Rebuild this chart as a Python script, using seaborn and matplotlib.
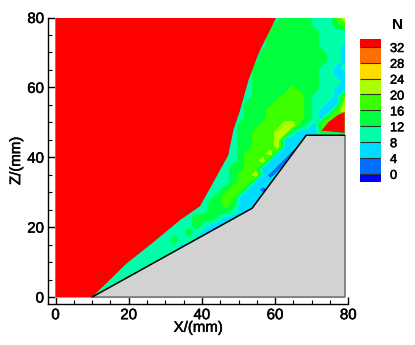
import numpy as np
import matplotlib
matplotlib.use("Agg")
import matplotlib.pyplot as plt
import matplotlib.patheffects as pe
from matplotlib.colors import ListedColormap, BoundaryNorm
from matplotlib.ticker import MultipleLocator
from matplotlib.transforms import blended_transform_factory
import seaborn as sns

# N band at 2 mm grid nodes, Z from 80 down to 0, X from 0 to 79 (digit d = band from 4d-4 to 4d)
# cells upstream of the front and under the body are covered by the red and grey shapes
band_rows = [
    "3" * 30 + "3444433356",
    "3" * 29 + "34444433345",
    "3" * 28 + "344444443333",
    "3" * 28 + "344444443333",
    "3" * 27 + "3344444443332",
    "3" * 27 + "3444444444332",
    "3" * 27 + "3444444444332",
    "3" * 26 + "34444444443323",
    "3" * 26 + "34444444443322",
    "3" * 26 + "34444444443332",
    "3" * 25 + "334444454443322",
    "3" * 25 + "334444555433325",
    "3" * 25 + "344445555433226",
    "3" * 25 + "344455555432256",
    "3" * 24 + "3344455555432555",
    "3" * 24 + "3444555664325555",
    "3" * 24 + "3445556632224444",
    "3" * 24 + "3445556222222222",
    "3" * 24 + "3445556221222222",
    "3" * 24 + "3455562212222222",
    "3" * 23 + "33455622122222222",
    "3" * 23 + "34455221222222222",
    "3" * 23 + "34556212222222222",
    "3" * 22 + "33455222" + "2" * 10,
    "3" * 21 + "33455221" + "2" * 11,
    "3" * 21 + "3455222" + "2" * 12,
    "3" * 20 + "34454222" + "2" * 12,
    "3" * 19 + "33444322" + "2" * 13,
    "3" * 18 + "3444322" + "2" * 15,
    "3" * 17 + "3343222" + "2" * 16,
    "3" * 15 + "3334322" + "2" * 18,
    "3" * 14 + "334332" + "2" * 20,
    "3" * 13 + "33332" + "2" * 22,
    "3" * 12 + "33332" + "2" * 23,
    "3" * 40,
    "3" * 40,
    "3" * 40,
    "3" * 40,
    "3" * 40,
    "3" * 40,
]
band_colors = ["#0000ff", "#006eff", "#00dcff", "#00ffaa", "#00ff3c",
               "#3cff00", "#aaff00", "#ffdc00", "#ff6e00", "#ff0000"]
level_edges = [-4, 0, 4, 8, 12, 16, 20, 24, 28, 32, 36]
legend_labels = ["32", "28", "24", "20", "16", "12", "8", "4", "0"]

# red upstream region boundary (mm)
front_x = [0, 10, 19.4, 25.8, 34, 39.5, 47.2, 48.6, 50.3, 52.7, 55.6, 60.3, 0]
front_z = [0, 0, 9.6, 14.9, 22, 26, 40.6, 47.8, 53, 62, 70, 80, 80]
# red patch above the shelf (mm)
patch_x = [79, 77, 74.5, 72.7, 79]
patch_z = [53, 52, 50, 47.6, 47]
# solid body (mm)
body_x = [10, 53.7, 68.5, 79, 79, 10]
body_z = [0, 25.4, 46.3, 46.3, 0, 0]

W, H = 415, 345
FONT = "Liberation Sans"
sns.set_theme(style="ticks")
plt.rcParams["font.family"] = [FONT, "DejaVu Sans"]

fig = plt.figure(figsize=(W / 100, H / 100), dpi=100, facecolor="white")
L, R, T, B = 48.3, 348.3, 17.5, 304.0

cmap = ListedColormap(band_colors)
norm = BoundaryNorm(level_edges, cmap.N)
grid = np.array([[4 * int(c) - 2 for c in row] for row in band_rows], dtype=float)
grid_x = np.linspace(0, 79, grid.shape[1])
grid_z = np.linspace(80, 0, grid.shape[0])

ax = fig.add_axes([L / W, (H - B) / H, (R - L) / W, (B - T) / H], zorder=3)
ax.set_xlim(-2, 80)
ax.set_ylim(-2, 80)
ax.contourf(grid_x, grid_z, grid, levels=level_edges, cmap=cmap, norm=norm)
ax.fill(front_x, front_z, color="#ff0000", lw=0)
ax.fill(patch_x, patch_z, color="#ff0000", lw=0)
ax.fill(body_x, body_z, color="#d2d2d2", lw=0)
ax.plot(body_x[3:6], body_z[3:6], color="#787878", lw=1.2, solid_capstyle="butt")
ax.plot(body_x[:4], body_z[:4], color="black", lw=1.1, solid_joinstyle="miter")

for side in ("top", "right"):
    ax.spines[side].set_visible(False)
for side in ("left", "bottom"):
    ax.spines[side].set_linewidth(1.0)
    ax.spines[side].set_color("black")
ax.xaxis.set_major_locator(MultipleLocator(20))
ax.yaxis.set_major_locator(MultipleLocator(20))
ax.xaxis.set_minor_locator(MultipleLocator(5))
ax.yaxis.set_minor_locator(MultipleLocator(5))
ax.tick_params(which="major", direction="in", length=5, width=1.0, color="black",
               labelsize=10.8, labelcolor="black", pad=3)
ax.tick_params(which="minor", direction="in", length=3, width=0.8, color="black")
ax.set_xlabel("X/(mm)", fontsize=10.8, color="black", labelpad=-1)
ax.set_ylabel("Z/(mm)", fontsize=10.8, color="black", labelpad=3)

# legend bar
ax_bar = fig.add_axes([360 / W, (H - 181.7) / H, 21 / W, (181.7 - 39) / H], zorder=2)
legend_values = np.array([[v] for v in [34, 30, 26, 22, 18, 14, 10, 6, 2, -2]], dtype=float)
sns.heatmap(legend_values, ax=ax_bar, cmap=cmap, norm=norm, cbar=False,
            xticklabels=False, yticklabels=False)
ax_bar.set_ylim(9.5, 0.5)
ax_bar.set_axis_off()
tr = blended_transform_factory(ax_bar.transAxes, ax_bar.transData)
bar_texts = []
for i, lab in enumerate(legend_labels, start=1):
    ax_bar.hlines(i, 0, 1, color="#303030", lw=0.8)
    bar_texts.append(ax_bar.text((390 - 360) / 21, i + 0.13, lab, transform=tr, ha="left",
                                 va="center", fontsize=9.2, color="black", clip_on=False))
fig.text(392 / W, 1 - 25 / H, "N", fontsize=11, fontweight="bold", color="black",
         ha="left", va="center")

stroke = [pe.withStroke(linewidth=0.35, foreground="black")]
for t in ax.get_xticklabels() + ax.get_yticklabels() + bar_texts + [ax.xaxis.label, ax.yaxis.label]:
    t.set_path_effects(stroke)

fig.savefig("out.png", dpi=100, facecolor="white")
